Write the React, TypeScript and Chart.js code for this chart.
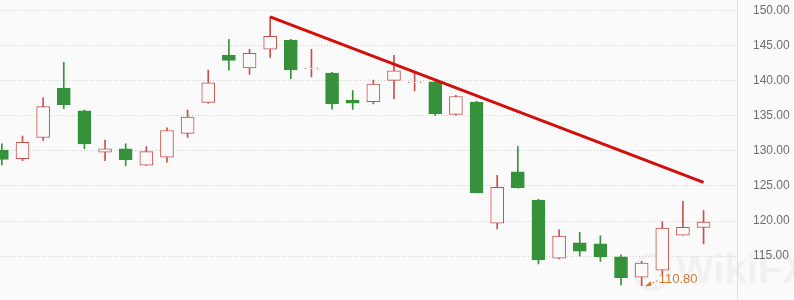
import React, { useEffect, useRef } from "react";
import { Chart, registerables } from "chart.js";

Chart.register(...registerables);

// Daily OHLC candles, oldest first
const opens = [130.1, 128.9, 131.9, 138.9, 135.7, 129.8, 130.3, 127.95, 129.1, 132.5, 136.9, 143.6, 141.8, 144.5, 145.8, 141.7, 141.1, 137.25, 137.0, 140.05, 139.7, 139.85, 135.2, 136.95, 119.7, 127.0, 123.0, 114.7, 116.9, 116.75, 114.9, 112.0, 113.0, 118.0, 119.1];
const highs = [131.0, 132.1, 137.6, 142.6, 135.8, 131.55, 131.0, 130.6, 133.3, 135.8, 141.5, 145.9, 144.45, 149.1, 145.9, 144.45, 141.2, 138.6, 140.1, 143.6, 141.0, 139.9, 137.9, 137.1, 126.5, 130.6, 123.1, 118.75, 118.4, 117.9, 115.2, 114.25, 119.9, 122.8, 121.5];
const lows = [128.0, 128.6, 131.5, 136.0, 130.3, 128.6, 127.9, 127.9, 128.4, 131.9, 136.8, 141.5, 140.9, 143.3, 140.3, 140.55, 135.95, 135.9, 136.7, 137.4, 138.55, 135.0, 135.1, 124.0, 118.9, 124.7, 113.9, 114.6, 115.0, 114.25, 110.9, 110.8, 112.5, 118.0, 116.75];
const closes = [128.8, 131.2, 136.3, 136.6, 131.0, 130.3, 128.75, 129.9, 132.9, 134.8, 139.7, 142.9, 143.9, 146.3, 141.55, 141.8, 136.7, 136.8, 139.5, 141.4, 139.8, 135.3, 137.75, 124.05, 124.8, 124.75, 114.45, 117.85, 115.7, 114.9, 111.95, 114.0, 119.0, 119.1, 119.85];

// Resistance line drawn from the swing high down to the last session
const trendX = [13, 34];
const trendY = [149.1, 125.5];

// Price axis ticks
const priceTicks = [115, 120, 125, 130, 135, 140, 145, 150];

// Marked low
const lowIndex = 31;
const lowLabel = "110.80";

const BG = "#fafafa";
const UP = "#c9514b";
const DOWN = "#35913a";

const isUp = (i: number) => closes[i] >= opens[i];

const backgroundPlugin = {
  id: "pageBackground",
  beforeDraw(chart: any) {
    const { ctx, width, height } = chart;
    ctx.save();
    ctx.fillStyle = BG;
    ctx.fillRect(0, 0, width, height);
    // faint brand mark
    ctx.fillStyle = "rgba(0,0,0,0.035)";
    ctx.font = "bold 40px 'Liberation Sans', Arial, sans-serif";
    ctx.textBaseline = "middle";
    ctx.fillText("WikiFX", 676, 272);
    ctx.lineWidth = 4;
    ctx.strokeStyle = "rgba(0,0,0,0.035)";
    ctx.beginPath();
    ctx.arc(652, 272, 17, 0, Math.PI * 2);
    ctx.stroke();
    ctx.restore();
  },
};

const lowMarkerPlugin = {
  id: "lowMarker",
  afterDatasetsDraw(chart: any) {
    const { ctx } = chart;
    const xs = chart.scales.x;
    const ys = chart.scales.y;
    const px = xs.getPixelForValue(lowIndex);
    const py = ys.getPixelForValue(lows[lowIndex]);
    const color = "#d07a2c";
    ctx.save();
    // dotted leader with arrowhead at the low
    const tipX = px + 3;
    const tipY = py + 0.5;
    const startX = px + 16;
    const startY = py - 5;
    ctx.strokeStyle = color;
    ctx.lineWidth = 1;
    ctx.setLineDash([2, 2]);
    ctx.beginPath();
    ctx.moveTo(startX, startY);
    ctx.lineTo(tipX + 4, tipY - 1.5);
    ctx.stroke();
    ctx.setLineDash([]);
    ctx.fillStyle = color;
    ctx.beginPath();
    ctx.moveTo(tipX, tipY);
    ctx.lineTo(tipX + 6, tipY - 5);
    ctx.lineTo(tipX + 7, tipY - 0.5);
    ctx.closePath();
    ctx.fill();
    ctx.font = "13px 'Liberation Sans', Arial, sans-serif";
    ctx.textBaseline = "alphabetic";
    ctx.textAlign = "left";
    ctx.fillText(lowLabel, px + 17, py - 3);
    ctx.restore();
  },
};

export default function App() {
  const canvasRef = useRef<HTMLCanvasElement | null>(null);

  useEffect(() => {
    document.body.style.margin = "0";
    document.body.style.background = BG;
    const canvas = canvasRef.current;
    if (!canvas) return;

    const idx = opens.map((_, i) => i);
    const bodies = idx.map((i) => ({ x: i, y: [opens[i], closes[i]] }));
    const wicks = idx.map((i) => ({ x: i, y: [lows[i], highs[i]] }));
    const fills = idx.map((i) => (isUp(i) ? BG : DOWN));
    const edges = idx.map((i) => (isUp(i) ? UP : DOWN));

    const chart = new Chart(canvas, {
      type: "bar",
      data: {
        datasets: [
          {
            type: "line",
            data: trendX.map((x, k) => ({ x, y: trendY[k] })),
            borderColor: "#d40d0d",
            borderWidth: 3,
            pointRadius: 0,
            order: 1,
          } as any,
          {
            data: bodies as any,
            backgroundColor: fills,
            borderColor: edges,
            borderWidth: 1,
            borderSkipped: false,
            barThickness: 13,
            grouped: false,
            order: 2,
          },
          {
            data: wicks as any,
            backgroundColor: edges,
            borderWidth: 0,
            barThickness: 1,
            grouped: false,
            order: 3,
          },
        ],
      },
      options: {
        responsive: false,
        animation: false,
        devicePixelRatio: 1,
        layout: { padding: 0 },
        plugins: {
          legend: { display: false },
          tooltip: { enabled: false },
        },
        scales: {
          x: {
            type: "linear",
            display: false,
            min: -0.09,
            max: 35.62,
            offset: false,
          },
          y: {
            type: "linear",
            position: "right",
            min: 108.8,
            max: 151.45,
            afterBuildTicks: (scale: any) => {
              scale.ticks = priceTicks.map((v) => ({ value: v }));
            },
            afterFit: (scale: any) => {
              scale.width = 57;
            },
            grid: {
              color: "#cfcfcf",
              drawTicks: true,
              tickLength: 16,
              tickColor: "rgba(0,0,0,0)",
            } as any,
            border: {
              display: true,
              color: "#e0e0e0",
              dash: [1, 2],
            } as any,
            ticks: {
              padding: 0,
              color: "#6e6e6e",
              font: { family: "'Liberation Sans', Arial, sans-serif", size: 12, lineHeight: 0.05 },
              callback: (v: any) => Number(v).toFixed(2),
            },
          },
        },
      },
      plugins: [backgroundPlugin, lowMarkerPlugin],
    });

    return () => chart.destroy();
  }, []);

  return (
    <canvas
      ref={canvasRef}
      width={794}
      height={300}
      style={{ display: "block", width: 794, height: 300 }}
    />
  );
}
